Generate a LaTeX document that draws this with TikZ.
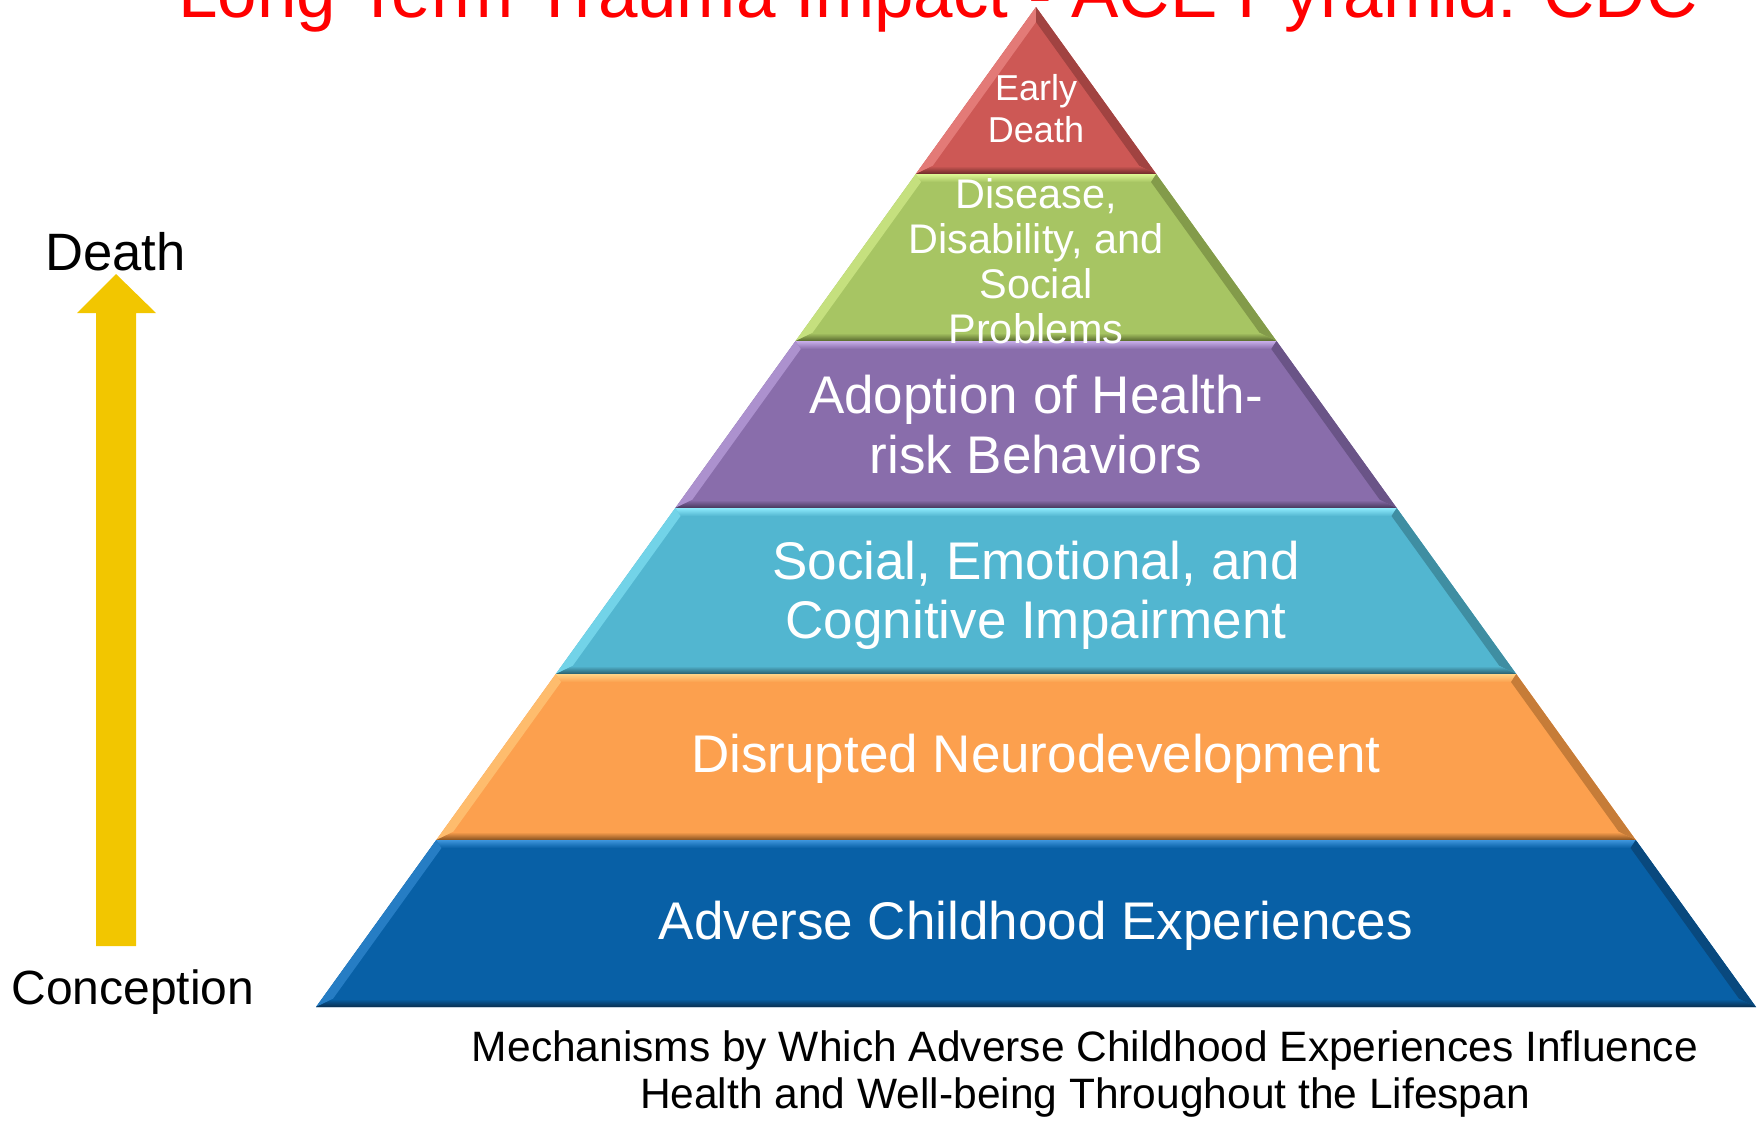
\documentclass[tikz,border=0pt]{standalone}
\usepackage{fontspec}
\setmainfont{Liberation Sans}
\definecolor{redB}{HTML}{CD5855}\definecolor{redL}{HTML}{F59593}\definecolor{redD}{HTML}{6B2A28}
\definecolor{greenB}{HTML}{A7C563}\definecolor{greenL}{HTML}{DDF794}\definecolor{greenD}{HTML}{56672C}
\definecolor{purpleB}{HTML}{896DAB}\definecolor{purpleL}{HTML}{C8AEEA}\definecolor{purpleD}{HTML}{45365A}
\definecolor{cyanB}{HTML}{52B6D0}\definecolor{cyanL}{HTML}{8DEAFC}\definecolor{cyanD}{HTML}{285C6A}
\definecolor{orangeB}{HTML}{FCA04E}\definecolor{orangeL}{HTML}{FFD386}\definecolor{orangeD}{HTML}{85501E}
\definecolor{blueB}{HTML}{0860A6}\definecolor{blueL}{HTML}{3E95DC}\definecolor{blueD}{HTML}{0A2E4E}
\definecolor{arrowyellow}{HTML}{F2C600}
\newcommand\pyrlayer[5]{%
 \pgfmathsetmacro\pyT{#1}%
 \pgfmathsetmacro\pyB{#2}%
 \pgfmathsetmacro\pyTi{#1+8}%
 \pgfmathsetmacro\pyBi{#2-8}%
 \pgfmathsetmacro\pxLT{1036-0.72*(#1-7)}%
 \pgfmathsetmacro\pxRT{1036+0.72*(#1-7)}%
 \pgfmathsetmacro\pxLB{1036-0.72*(#2-7)}%
 \pgfmathsetmacro\pxRB{1036+0.72*(#2-7)}%
 \pgfmathsetmacro\pxLTi{1036-0.72*(#1+1)+11}%
 \pgfmathsetmacro\pxRTi{1036+0.72*(#1+1)-11}%
 \pgfmathsetmacro\pxLBi{1036-0.72*(#2-15)+11}%
 \pgfmathsetmacro\pxRBi{1036+0.72*(#2-15)-11}%
 \fill[#3] (\pxLT,\pyT) -- (\pxRT,\pyT) -- (\pxRB,\pyB) -- (\pxLB,\pyB) -- cycle;
 \shade[top color=#4, bottom color=#3] (\pxLT,\pyT) -- (\pxRT,\pyT) -- (\pxRTi,\pyTi) -- (\pxLTi,\pyTi) -- cycle;
 \fill[#4!55!#3] (\pxLT,\pyT) -- (\pxLTi,\pyTi) -- (\pxLBi,\pyBi) -- (\pxLB,\pyB) -- cycle;
 \fill[#5!45!#3] (\pxRT,\pyT) -- (\pxRTi,\pyTi) -- (\pxRBi,\pyBi) -- (\pxRB,\pyB) -- cycle;
 \shade[top color=#3, bottom color=#5] (\pxLB,\pyB) -- (\pxLBi,\pyBi) -- (\pxRBi,\pyBi) -- (\pxRB,\pyB) -- cycle;
}
\tikzset{
 lay/.style={text=white, align=center, anchor=base, inner sep=0pt},
 plain/.style={text=black, inner sep=0pt}
}
\begin{document}
\begin{tikzpicture}[x=0.5pt,y=-0.5pt]
\useasboundingbox (0,0) rectangle (1764,1121);
% title
\node[anchor=base, text=red, inner sep=0pt, font=\fontsize{35.5}{42}\selectfont] (title) at (938,17) {Long Term Trauma Impact - ACE Pyramid: CDC};
% pyramid: top triangle
\pgfmathsetmacro\rxL{1036-0.72*167}
\pgfmathsetmacro\rxR{1036+0.72*167}
\pgfmathsetmacro\rxLi{1036-0.72*159+11}
\pgfmathsetmacro\rxRi{1036+0.72*159-11}
\fill[redB] (1036,7) -- (\rxR,174) -- (\rxL,174) -- cycle;
\fill[redL!55!redB] (1036,7) -- (1036,22) -- (\rxLi,166) -- (\rxL,174) -- cycle;
\fill[redD!45!redB] (1036,7) -- (1036,22) -- (\rxRi,166) -- (\rxR,174) -- cycle;
\shade[top color=redB, bottom color=redD] (\rxL,174) -- (\rxLi,166) -- (\rxRi,166) -- (\rxR,174) -- cycle;
\pyrlayer{174}{341}{greenB}{greenL}{greenD}
\pyrlayer{341}{508}{purpleB}{purpleL}{purpleD}
\pyrlayer{508}{674}{cyanB}{cyanL}{cyanD}
\pyrlayer{674}{840}{orangeB}{orangeL}{orangeD}
\pyrlayer{840}{1007}{blueB}{blueL}{blueD}
% layer labels (anchor=base is the baseline of the last line)
\node[lay, font=\fontsize{18}{21}\selectfont] (early) at (1036,142) {Early\\Death};
\node[lay, font=\fontsize{20.7}{22.5}\selectfont] (disease) at (1036,343) {Disease,\\Disability, and\\Social\\Problems};
\node[lay, font=\fontsize{26.5}{30}\selectfont] (adoption) at (1036,473) {Adoption of Health-\\risk Behaviors};
\node[lay, font=\fontsize{26.5}{29.5}\selectfont] (social) at (1036,638) {Social, Emotional, and\\Cognitive Impairment};
\node[lay, font=\fontsize{26.5}{30}\selectfont] (neuro) at (1036,772) {Disrupted Neurodevelopment};
\node[lay, font=\fontsize{26.5}{30}\selectfont] (ace) at (1036,939) {Adverse Childhood Experiences};
% timeline arrow
\node[plain, anchor=base west, font=\fontsize{26.3}{30}\selectfont] (death) at (45,270) {Death};
\node[plain, anchor=base west, font=\fontsize{24}{28}\selectfont] (conception) at (11,1004) {Conception};
\coordinate (arrtail) at (116,946);
\coordinate (arrtip) at (116,274);
\fill[arrowyellow] ([xshift=-10pt]arrtail) -- (96,313) -- (77,313) -- (arrtip) -- (156,313) -- (136,313) -- ([xshift=10pt]arrtail) -- cycle;
% caption
\node[plain, anchor=base, align=center, font=\fontsize{21.25}{23.5}\selectfont] (caption) at (1085,1108) {Mechanisms by Which Adverse Childhood Experiences Influence\\Health and Well-being Throughout the Lifespan};
\end{tikzpicture}
\end{document}
